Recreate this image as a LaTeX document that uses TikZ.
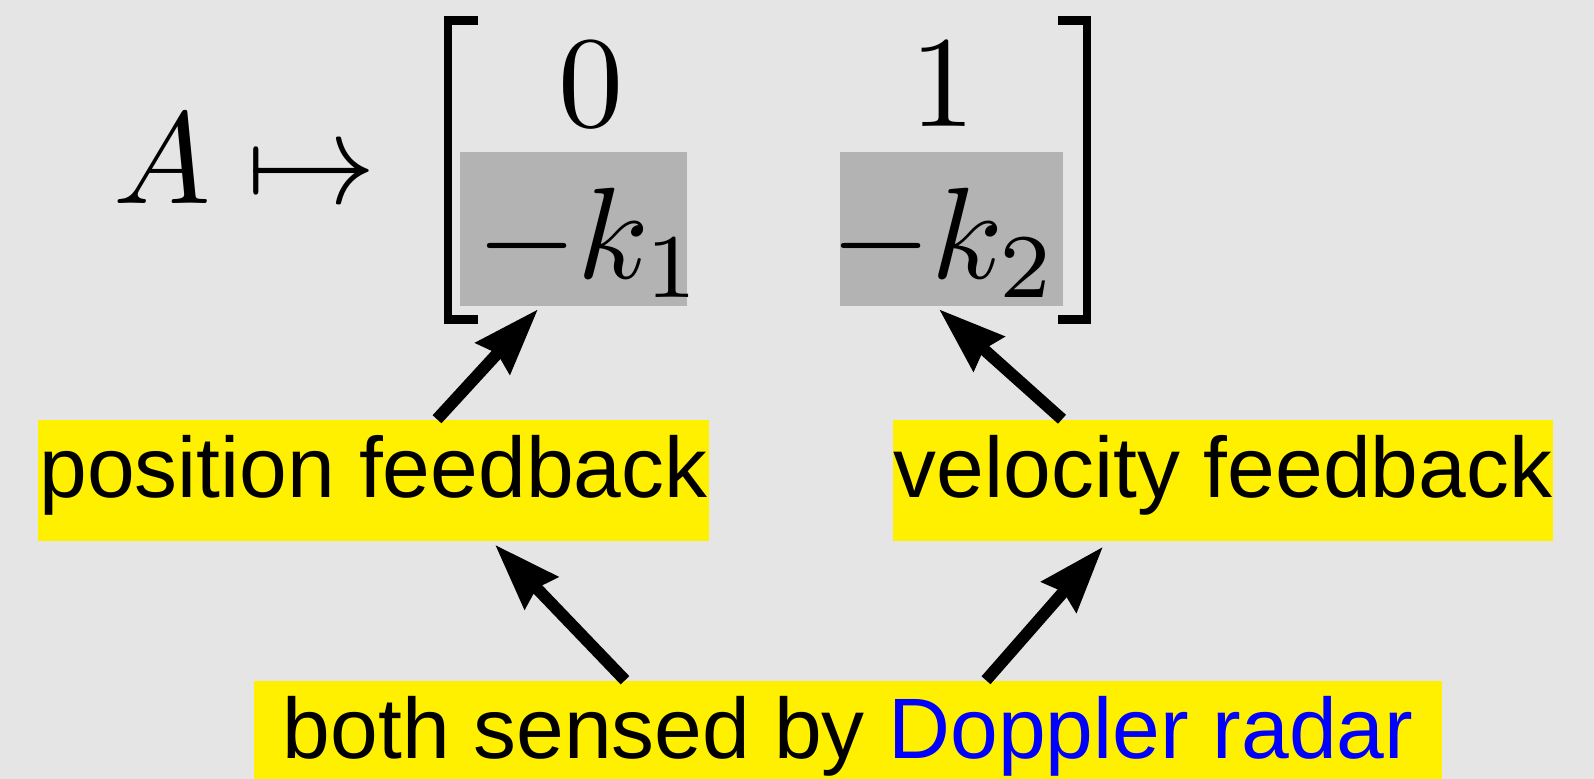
\documentclass[tikz,border=0pt]{standalone}
\usepackage{amsmath}
\usepackage{graphicx}
\usepackage{fontspec}
\usepackage{xcolor}
\usetikzlibrary{arrows.meta,calc}
\newfontfamily\labelfont{Liberation Sans}
\newcommand{\matent}[1]{\scalebox{3.7}{$#1$}}
\definecolor{PlotBack}{HTML}{E5E5E5}
\definecolor{GainGray}{HTML}{B3B3B3}
\definecolor{TagYellow}{HTML}{FFF000}
\definecolor{RadarBlue}{HTML}{0000FF}

\begin{document}
\begin{tikzpicture}[x=0.01cm, y=-0.01cm,
  ent/.style={anchor=base, inner sep=0pt},
  gain/.style={fill=GainGray, inner sep=0pt, minimum height=1.53cm},
  tag/.style={anchor=base, fill=TagYellow, inner xsep=0pt, inner ysep=0pt, text height=0.77cm, text depth=0.44cm, font=\labelfont\fontsize{24.4}{28}\selectfont},
  fbarr/.style={-{Stealth[length=0.66cm, width=0.45cm, inset=0.06cm]}, line width=3.4pt},
  brk/.style={line width=2.3pt}]
\fill[PlotBack] (0,0) rectangle (1594,779);
\useasboundingbox (0,0) rectangle (1594,779);
\node[gain, minimum width=2.26cm] (g1) at (573.5,229) {};
\node[gain, minimum width=2.23cm] (g2) at (951.5,229) {};
\node[ent] (lhs) at (245,203) {\matent{A \mapsto}};
\node[ent] (e11) at (591,127) {\matent{0}};
\node[ent] (e12) at (943,127) {\matent{1}};
\node[ent] (e21) at (590,278) {\matent{-k_1}};
\node[ent] (e22) at (944,278) {\matent{-k_2}};
\draw[brk] (478,20.5) -| (448,319.5) -- (478,319.5);
\draw[brk] (1058,20.5) -| (1087,319.5) -- (1058,319.5);
\node[tag, minimum width=6.71cm] (pos) at (373.5,497) {position feedback};
\node[tag, minimum width=6.60cm] (vel) at (1223,497) {velocity feedback};
\node[tag, minimum width=11.88cm] (both) at (848,758) {both sensed by \textcolor{RadarBlue}{Doppler radar}};
\draw[fbarr] ($(pos.north)+(63.5,0)$) -- ($(g1.south)+(-35.5,3)$);
\draw[fbarr] ($(vel.north)+(-161,0)$) -- ($(g2.south)+(-12.5,3)$);
\draw[fbarr] ($(both.north)+(-223,0)$) -- ($(pos.south)+(121.5,3)$);
\draw[fbarr] ($(both.north)+(138,0)$) -- ($(vel.south)+(-120,5)$);
\end{tikzpicture}
\end{document}
